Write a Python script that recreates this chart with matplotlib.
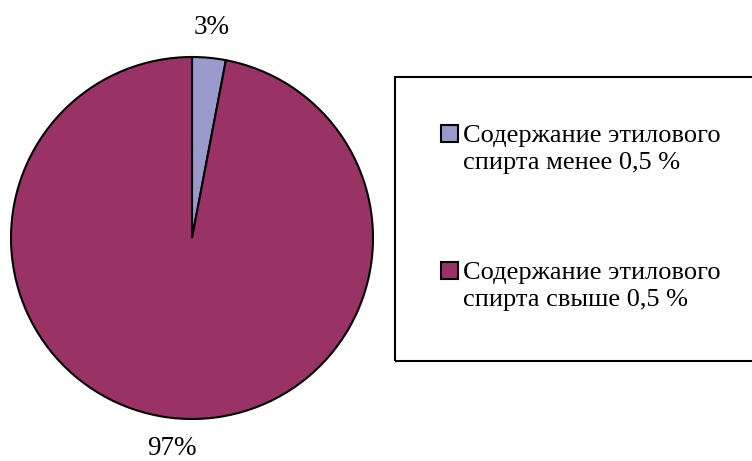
import matplotlib.pyplot as plt
from matplotlib.patches import Rectangle

# данные диаграммы
labels = ["Содержание этилового\nспирта менее 0,5 %",
          "Содержание этилового\nспирта свыше 0,5 %"]
shares = [3, 97]
colors = ["#9999CC", "#993366"]

plt.rcParams["font.family"] = ["Liberation Serif", "DejaVu Serif"]

W, H = 752, 461
fig = plt.figure(figsize=(W / 100, H / 100), dpi=100)

# круговая диаграмма: центр (192, 238), радиус 181 px
cx, cy, r = 192, 238, 181
ax = fig.add_axes([(cx - r) / W, (H - cy - r) / H, 2 * r / W, 2 * r / H])
ax.pie(shares, colors=colors, startangle=90, counterclock=False,
       autopct="%d%%", pctdistance=1.166,
       wedgeprops=dict(edgecolor="black", linewidth=1.5),
       textprops=dict(fontsize=19.5, color="black"))
ax.set_xlim(-1, 1)
ax.set_ylim(-1, 1)
ax.set_aspect("equal")

# рамка легенды
box = Rectangle((395 / W, 1 - 361 / H), 360 / W, (361 - 77) / H,
                transform=fig.transFigure, fill=False,
                edgecolor="black", linewidth=1.5)
fig.patches.append(box)

# элементы легенды
for i, (lab, col) in enumerate(zip(labels, colors)):
    y0 = 125 + i * 137
    sq = Rectangle((441 / W, 1 - (y0 + 17) / H), 17 / W, 17 / H,
                   transform=fig.transFigure, facecolor=col,
                   edgecolor="black", linewidth=1.5)
    fig.patches.append(sq)
    fig.text(463 / W, 1 - y0 / H, lab, fontsize=19, va="top",
             ha="left", linespacing=1.3)

fig.savefig("out.png", dpi=100)
